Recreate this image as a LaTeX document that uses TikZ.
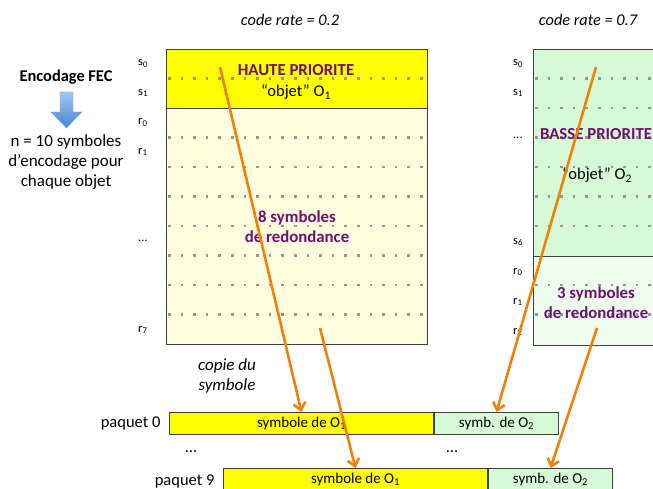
\documentclass[tikz,border=0pt]{standalone}
\usepackage{fontspec}
\setmainfont{Carlito}
\usetikzlibrary{arrows.meta,positioning}

\definecolor{jaune}{RGB}{255,255,0}
\definecolor{jauneclair}{RGB}{255,253,222}
\definecolor{vert}{RGB}{214,250,214}
\definecolor{vertclair}{RGB}{237,252,237}
\definecolor{violet}{RGB}{112,16,112}
\definecolor{orangef}{RGB}{240,128,10}
\definecolor{gris}{RGB}{150,150,150}
\definecolor{bleuclair}{RGB}{160,200,242}
\definecolor{bleufonce}{RGB}{72,132,208}

\begin{document}
\begin{tikzpicture}[
x=1pt,y=-1pt,
bloc/.style={rectangle,draw=black!75,line width=1.2pt,anchor=north west,inner sep=0pt},
paquet/.style={rectangle,draw=black!75,line width=1pt,inner sep=0pt,minimum height=22pt,font=\fontsize{15}{16}\selectfont},
pointille/.style={gris,line width=2.6pt,dash pattern=on 2.6pt off 10pt},
titre/.style={text=violet,align=center,font=\bfseries\fontsize{16.8}{20}\selectfont},
texte/.style={align=center,font=\fontsize{16.5}{20}\selectfont},
italique/.style={align=center,font=\itshape\fontsize{16.3}{20}\selectfont},
etiq/.style={anchor=west,inner sep=0pt,font=\fontsize{12.5}{14}\selectfont},
fleche/.style={orangef,line width=2.6pt,-{Straight Barb[length=7pt,width=12pt]}}
]
\useasboundingbox (0,0) rectangle (653,489);
\clip (0,0) rectangle (653,489);

% objets O1 et O2
\node[bloc,fill=jaune,minimum width=261pt,minimum height=59pt] (o1src) at (166,49) {};
\node[bloc,fill=jauneclair,minimum width=261pt,minimum height=236pt] (o1red) at (166,108) {};
\node[bloc,fill=vert,minimum width=150pt,minimum height=207pt] (o2src) at (533,49) {};
\node[bloc,fill=vertclair,minimum width=150pt,minimum height=89pt] (o2red) at (533,256) {};

\foreach \y in {78.5,137.5,167,196.5,226,255.5,285,314.5}
  \draw[pointille] (168,\y) -- (427,\y);
\foreach \y in {78.5,108,137.5,167,196.5,226,285,314.5}
  \draw[pointille] (535,\y) -- (660,\y);

\node[titre] (haute) at (296,70) {HAUTE PRIORITE};
\node[texte] (objet1) at (296,92) {“objet” O\textsubscript{1}};
\node[titre] (red1) at (297,227) {8 symboles\\de redondance};
\node[titre] (basse) at (596,134) {BASSE PRIORITE};
\node[texte] (objet2) at (597,175) {“objet” O\textsubscript{2}};
\node[titre] (red2) at (596,303) {3 symboles\\de redondance};

\node[italique] (rate1) at (290,20) {code rate = 0.2};
\node[italique] (rate2) at (588,20) {code rate = 0.7};

% symboles s_i et r_i
\node[etiq] (ls0) at (138,63.5) {s\textsubscript{0}};
\node[etiq] (ls1) at (138,93) {s\textsubscript{1}};
\node[etiq] (lr0) at (138,122.5) {r\textsubscript{0}};
\node[etiq] (lr1) at (138,152) {r\textsubscript{1}};
\node[etiq] (ldots) at (138,240.5) {...};
\node[etiq] (lr7) at (138,330) {r\textsubscript{7}};
\node[etiq] (rs0) at (513,63.5) {s\textsubscript{0}};
\node[etiq] (rs1) at (513,93) {s\textsubscript{1}};
\node[etiq] (rdots) at (513,137.5) {...};
\node[etiq] (rs6) at (513,242) {s\textsubscript{6}};
\node[etiq] (rr0) at (513,272) {r\textsubscript{0}};
\node[etiq] (rr1) at (513,302) {r\textsubscript{1}};
\node[etiq] (rr2) at (513,332) {r\textsubscript{2}};

% encodage
\node[texte,font=\bfseries\fontsize{16.4}{20}\selectfont] (fec) at (66,77) {Encodage FEC};
\shade[top color=bleuclair,bottom color=bleufonce,draw=bleufonce!70,line width=0.4pt]
  (60,92) -- (73,92) -- (73,112) -- (82,112) -- (66.5,128) -- (51,112) -- (60,112) -- cycle;
\node[texte,font=\fontsize{17}{20}\selectfont] (nsymb) at (66,162) {n = 10 symboles\\d’encodage pour\\chaque objet};

\node[italique,font=\itshape\fontsize{17}{20}\selectfont] (copie) at (227,376) {copie du\\symbole};

% paquets
\node[paquet,fill=jaune,minimum width=264pt,anchor=north west] (p0a) at (169,412) {symbole de O\textsubscript{1}};
\node[paquet,fill=vert,minimum width=124pt,right=0pt of p0a] (p0b) {symb. de O\textsubscript{2}};
\node[texte,left=5pt of p0a] (lp0) {paquet 0};
\node[texte] (pdots1) at (191,452) {...};
\node[texte] (pdots2) at (452,452) {...};
\node[paquet,fill=jaune,minimum width=264pt,anchor=north west] (p9a) at (223,468) {symbole de O\textsubscript{1}};
\node[paquet,fill=vert,minimum width=124pt,right=0pt of p9a] (p9b) {symb. de O\textsubscript{2}};
\node[texte,left=5pt of p9a,yshift=-2pt] (lp9) {paquet 9};

% copies
\coordinate (a1) at (220,67);
\coordinate (a2) at (320,328);
\coordinate (b1) at (596,67);
\coordinate (b2) at (597,328);
\draw[fleche] (a1) -- (p0a.north);
\draw[fleche] (a2) -- (p9a.north);
\draw[fleche] (b1) -- (p0b.north);
\draw[fleche] (b2) -- (p9b.north);

\end{tikzpicture}
\end{document}
